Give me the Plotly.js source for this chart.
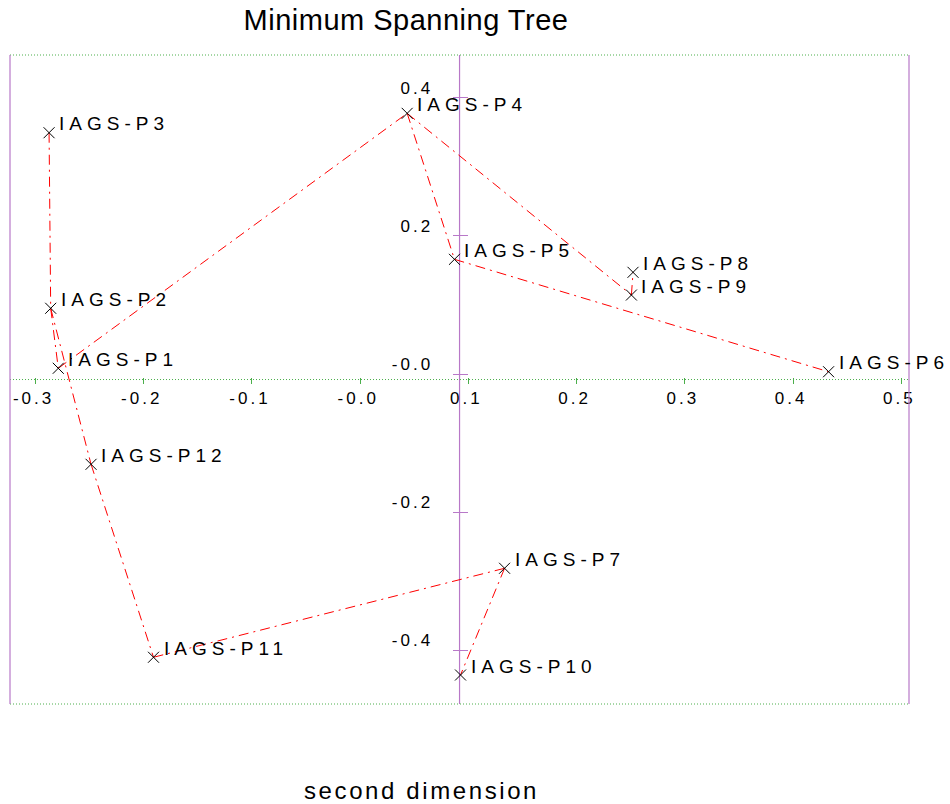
<!DOCTYPE html>
<html>
<head>
<meta charset="utf-8">
<script src="https://cdn.plot.ly/plotly-3.0.1.min.js"></script>
<style>
html,body{margin:0;padding:0;background:#fff;}
#chart{width:950px;height:804px;}
</style>
</head>
<body>
<div id="chart"></div>
<script>
// ---- data ----
const names = ['IAGS-P1','IAGS-P2','IAGS-P3','IAGS-P4','IAGS-P5','IAGS-P6',
               'IAGS-P7','IAGS-P8','IAGS-P9','IAGS-P10','IAGS-P11','IAGS-P12'];
const xs = [-0.279, -0.286, -0.2875, 0.0434, 0.0871, 0.4328,
             0.1334, 0.2521, 0.2506, 0.0927, -0.1910, -0.2487];
const ys = [0.0083, 0.0952, 0.3495, 0.3776, 0.1661, 0.0033,
            -0.2814, 0.1473, 0.1144, -0.4360, -0.4103, -0.1308];
// tree edges (pairs of names)
const edgesFrom = ['IAGS-P3','IAGS-P2','IAGS-P1','IAGS-P2','IAGS-P12','IAGS-P11','IAGS-P7','IAGS-P4','IAGS-P4','IAGS-P9','IAGS-P5'];
const edgesTo   = ['IAGS-P2','IAGS-P1','IAGS-P4','IAGS-P12','IAGS-P11','IAGS-P7','IAGS-P10','IAGS-P5','IAGS-P9','IAGS-P8','IAGS-P6'];
const xTickVals = [-0.3,-0.2,-0.1,0.0,0.1,0.2,0.3,0.4,0.5];
const xTickText = ['-0.3','-0.2','-0.1','-0.0','0.1','0.2','0.3','0.4','0.5'];
const yTickVals = [0.4,0.2,0.0,-0.2,-0.4];
const yTickText = ['0.4','0.2','-0.0','-0.2','-0.4'];
const chartTitle = 'Minimum Spanning Tree';
const axisTitle = 'second dimension';

// ---- layout parameters ----
const XR = [-0.3236, 0.5071];
const YR = [-0.478, 0.4621];
const XCROSS = 0.0918;   // where vertical axis line sits
const YCROSS = -0.008;   // where horizontal axis line sits
const M = {l:10, r:41, t:55, b:100};
const PW = 950 - M.l - M.r, PH = 804 - M.t - M.b;
const GREEN = '#4caf4c', PURPLE = '#b878c8';
const FONT = 'Liberation Sans, Arial, sans-serif';
const sp = (t, px) => '<span style="letter-spacing:' + px + 'px">' + t + '</span>';

const idx = n => names.indexOf(n);
const ex = [], ey = [];
edgesFrom.forEach((a, i) => {
  const b = edgesTo[i];
  ex.push(xs[idx(a)], xs[idx(b)], null);
  ey.push(ys[idx(a)], ys[idx(b)], null);
});

const traces = [
  {x: ex, y: ey, mode: 'lines', type: 'scatter', hoverinfo: 'skip',
   line: {color: '#ff0000', width: 1, dash: '10px,5px,2px,5px'}},
  {x: xs, y: ys, mode: 'markers', type: 'scatter', text: names, hoverinfo: 'text',
   marker: {symbol: 'x-thin', size: 11, color: '#000', line: {color: '#000', width: 1}}}
];

const xPos = (YCROSS - YR[0]) / (YR[1] - YR[0]) + 3 / PH;
const yPos = (XCROSS - XR[0]) / (XR[1] - XR[0]) + 8 / PW;

const annotations = names.map((n, i) => ({
  x: xs[i], y: ys[i], xref: 'x', yref: 'y', text: sp(n, 5), showarrow: false,
  xanchor: 'left', yanchor: 'middle', xshift: 8, yshift: 9,
  font: {family: FONT, size: 19, color: '#000'}
}));
annotations.push({
  x: (421 - M.l) / PW, y: (804 - M.b - 790) / PH, xref: 'paper', yref: 'paper',
  text: sp(axisTitle, 2.6), showarrow: false, xanchor: 'center', yanchor: 'middle',
  font: {family: FONT, size: 24, color: '#000'}
});

const layout = {
  width: 950, height: 804, margin: M, showlegend: false,
  paper_bgcolor: '#fff', plot_bgcolor: '#fff',
  font: {family: FONT, color: '#000'},
  title: {text: sp(chartTitle, 0.5), x: 406 / 950, xref: 'container', xanchor: 'center',
          y: 1 - 20 / 804, yref: 'container', yanchor: 'middle',
          font: {family: FONT, size: 29, color: '#000'}},
  xaxis: {range: XR, anchor: 'free', position: xPos, side: 'bottom',
          showgrid: false, zeroline: false, showline: false,
          tickmode: 'array', tickvals: xTickVals, ticktext: xTickText.map(t => sp(t, 3)),
          ticks: 'outside', ticklen: 6, tickwidth: 1, tickcolor: GREEN,
          ticklabelshift: -2, tickfont: {family: FONT, size: 17, color: '#000'}},
  yaxis: {range: YR, anchor: 'free', position: yPos, side: 'left',
          showgrid: false, zeroline: false, showline: false,
          tickmode: 'array', tickvals: yTickVals, ticktext: yTickText.map(t => sp(t, 3)),
          ticks: 'outside', ticklen: 15, tickwidth: 1, tickcolor: PURPLE,
          ticklabelshift: -10, ticklabelstandoff: 16,
          tickfont: {family: FONT, size: 17, color: '#000'}},
  shapes: [
    {type: 'line', xref: 'paper', yref: 'paper', x0: 0, x1: 1, y0: 1, y1: 1, line: {color: GREEN, width: 1, dash: '1px,2px'}},
    {type: 'line', xref: 'paper', yref: 'paper', x0: 0, x1: 1, y0: 0, y1: 0, line: {color: GREEN, width: 1, dash: '1px,2px'}},
    {type: 'line', xref: 'paper', yref: 'paper', x0: 0, x1: 0, y0: 0, y1: 1, line: {color: PURPLE, width: 1.2}},
    {type: 'line', xref: 'paper', yref: 'paper', x0: 1, x1: 1, y0: 0, y1: 1, line: {color: PURPLE, width: 1.2}},
    {type: 'line', xref: 'x', yref: 'paper', x0: XCROSS, x1: XCROSS, y0: 0, y1: 1, line: {color: PURPLE, width: 1.2}, layer: 'below'},
    {type: 'line', xref: 'paper', yref: 'y', x0: 0, x1: 1, y0: YCROSS, y1: YCROSS, line: {color: GREEN, width: 1, dash: '1px,2px'}, layer: 'below'}
  ],
  annotations: annotations
};

Plotly.newPlot('chart', traces, layout, {displayModeBar: false, staticPlot: true});
</script>
</body>
</html>
